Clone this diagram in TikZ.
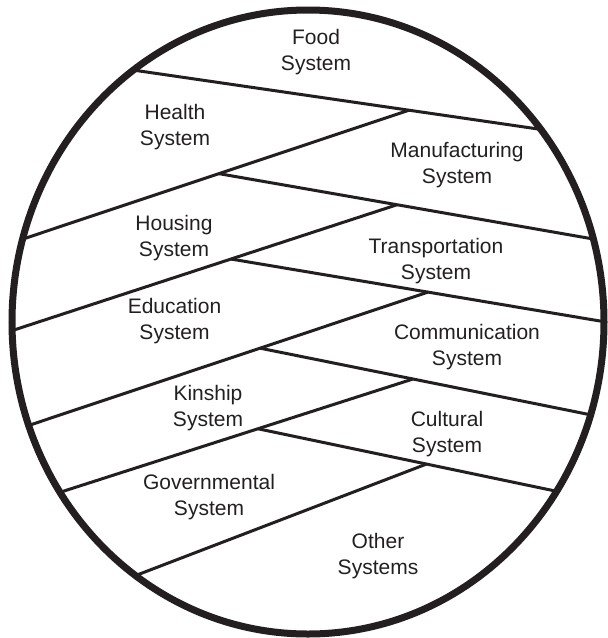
\documentclass[tikz,border=0pt]{standalone}
\usepackage{fontspec}
\setmainfont{Liberation Sans}
\usetikzlibrary{calc}
\definecolor{ink}{HTML}{231F20}
\begin{document}
\begin{tikzpicture}[x={(1pt,0)},y={(0,-1pt)},
  divider/.style={draw=ink,line width=3pt},
  rim/.style={draw=ink,line width=7pt},
  label/.style={text=ink,align=center,inner sep=0pt,font=\fontsize{21}{26}\selectfont}]
\useasboundingbox (0,0) rectangle (608,638);
% end points on the rim and the junctions where each divider meets the previous one
\coordinate (e1a) at (139.6,71);
\coordinate (e1b) at (545,130);
\coordinate (j1) at ($(e1a)!(409,110.5)!(e1b)$);
\coordinate (e2) at (29,237);
\coordinate (j2) at ($(j1)!(219,174)!(e2)$);
\coordinate (e3) at (599,240);
\coordinate (j3) at ($(j2)!(397,205)!(e3)$);
\coordinate (e4) at (17,329);
\coordinate (j4) at ($(j3)!(231,259)!(e4)$);
\coordinate (e5) at (600,321);
\coordinate (j5) at ($(j4)!(428,292)!(e5)$);
\coordinate (e6) at (33,424);
\coordinate (j6) at ($(j5)!(260,348)!(e6)$);
\coordinate (e7) at (595,415.7);
\coordinate (j7) at ($(j6)!(413,379)!(e7)$);
\coordinate (e8) at (64,491);
\coordinate (j8) at ($(j7)!(258,429)!(e8)$);
\coordinate (e9) at (560,492);
\coordinate (j9) at ($(j8)!(426.5,464)!(e9)$);
\coordinate (e10) at (139.6,574);
\begin{scope}
  \clip (308,322) ellipse [x radius=296, y radius=312];
  \draw[divider] ($(e1b)!1.2!(e1a)$) -- ($(e1a)!1.2!(e1b)$);
  \draw[divider] (j1) -- ($(j1)!1.15!(e2)$);
  \draw[divider] (j2) -- ($(j2)!1.15!(e3)$);
  \draw[divider] (j3) -- ($(j3)!1.15!(e4)$);
  \draw[divider] (j4) -- ($(j4)!1.15!(e5)$);
  \draw[divider] (j5) -- ($(j5)!1.15!(e6)$);
  \draw[divider] (j6) -- ($(j6)!1.15!(e7)$);
  \draw[divider] (j7) -- ($(j7)!1.15!(e8)$);
  \draw[divider] (j8) -- ($(j8)!1.15!(e9)$);
  \draw[divider] (j9) -- ($(j9)!1.15!(e10)$);
\end{scope}
\draw[rim] (308,322) ellipse [x radius=296, y radius=312];
% system labels
\node[label] (food) at (316,52) {Food\\System};
\node[label] (health) at (175,127) {Health\\System};
\node[label] (manuf) at (457,165) {Manufacturing\\System};
\node[label] (housing) at (174,238) {Housing\\System};
\node[label] (transport) at (436,261) {Transportation\\System};
\node[label] (education) at (174.5,321) {Education\\System};
\node[label] (comm) at (467,347.5) {Communication\\System};
\node[label] (kinship) at (208,408) {Kinship\\System};
\node[label] (cultural) at (447,434) {Cultural\\System};
\node[label] (govt) at (209,497) {Governmental\\System};
\node[label] (other) at (378,556) {Other\\Systems};
\end{tikzpicture}
\end{document}
